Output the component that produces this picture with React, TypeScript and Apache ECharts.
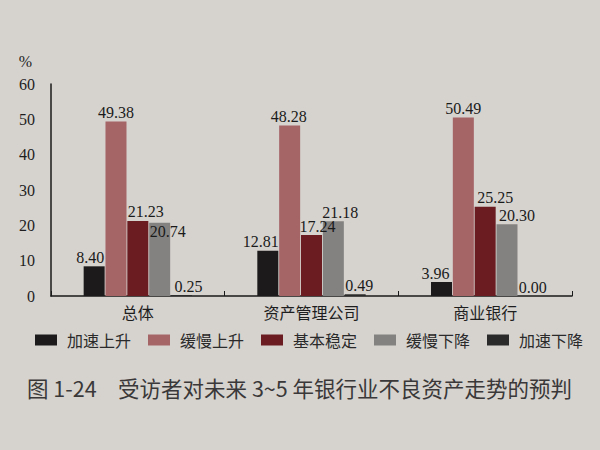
import React, { useEffect, useRef } from "react";
import * as echarts from "echarts";

const categories = ["总体", "资产管理公司", "商业银行"];
const seriesNames = ["加速上升", "缓慢上升", "基本稳定", "缓慢下降", "加速下降"];
const accelUp = [8.4, 12.81, 3.96];
const slowUp = [49.38, 48.28, 50.49];
const stable = [21.23, 17.24, 25.25];
const slowDown = [20.74, 21.18, 20.3];
const accelDown = [0.25, 0.49, 0.0];
const colors = ["#1c1a1b", "#a56466", "#6a1c20", "#848281", "#2b2a2a"];
const captionText = "图 1-24　受访者对未来 3~5 年银行业不良资产走势的预判";

// label nudges (layout only), per series per category, in pixels
const labelOffsets: number[][][] = [
  [[-4, 0], [-7, 0], [-6, 0]],
  [[0, 0], [-1, 0], [0, 0]],
  [[8, 0], [6, 0], [10, 0]],
  [[8, 18], [7, 0], [10, 0]],
  [[7, 0], [4, 0], [4, 0]],
];

export default function App() {
  const ref = useRef<HTMLDivElement>(null);
  useEffect(() => {
    if (!ref.current) return;
    const chart = echarts.init(ref.current, null, { renderer: "svg" });
    const values = [accelUp, slowUp, stable, slowDown, accelDown];
    const serif = "'Liberation Serif', 'DejaVu Serif', serif";
    const cjk = "'Noto Sans CJK SC', sans-serif";
    chart.setOption({
      animation: false,
      backgroundColor: "#d6d3cf",
      grid: { left: 51, right: 28, top: 84, bottom: 154 },
      legend: {
        left: 30,
        top: 327,
        itemWidth: 22,
        itemHeight: 11,
        itemGap: 17,
        icon: "rect",
        textStyle: { fontSize: 16, color: "#2a2a2a", fontFamily: cjk, padding: [0, 0, 0, 5] },
        data: seriesNames,
      },
      xAxis: {
        type: "category",
        data: categories,
        axisLine: { lineStyle: { color: "#1a1a1a", width: 1.5 } },
        axisTick: { show: true, inside: true, length: 5, lineStyle: { color: "#1a1a1a" } },
        axisLabel: { fontSize: 16, color: "#1e1e1e", margin: 8, fontFamily: cjk },
      },
      yAxis: {
        type: "value",
        min: 0,
        max: 60,
        interval: 10,
        name: "%",
        nameLocation: "end",
        nameGap: 15,
        nameTextStyle: { fontSize: 16, color: "#1e1e1e", fontFamily: serif, align: "right", padding: [0, 19, 0, 0] },
        axisLine: { show: true, lineStyle: { color: "#1a1a1a", width: 1.5 } },
        axisTick: { show: false },
        splitLine: { show: false },
        axisLabel: { fontSize: 16, color: "#1e1e1e", fontFamily: serif, margin: 16 },
      },
      series: seriesNames.map((name, i) => ({
        name,
        type: "bar",
        data: values[i].map((v, j) => ({ value: v, label: { offset: labelOffsets[i][j] } })),
        barWidth: 21,
        barGap: "4%",
        itemStyle: { color: colors[i] },
        label: {
          show: true,
          position: "top",
          distance: 1,
          fontSize: 16,
          color: "#1a1a1a",
          fontFamily: serif,
          formatter: (p: any) => Number(p.value).toFixed(2),
        },
      })),
      graphic: [
        {
          type: "text",
          left: 27,
          top: 377,
          style: {
            text: captionText,
            fontSize: 21.5,
            fill: "#3a3838",
            fontFamily: cjk,
          },
        },
      ],
    });
    return () => chart.dispose();
  }, []);
  return <div ref={ref} style={{ position: "fixed", left: 0, top: 0, width: 600, height: 450 }} />;
}
